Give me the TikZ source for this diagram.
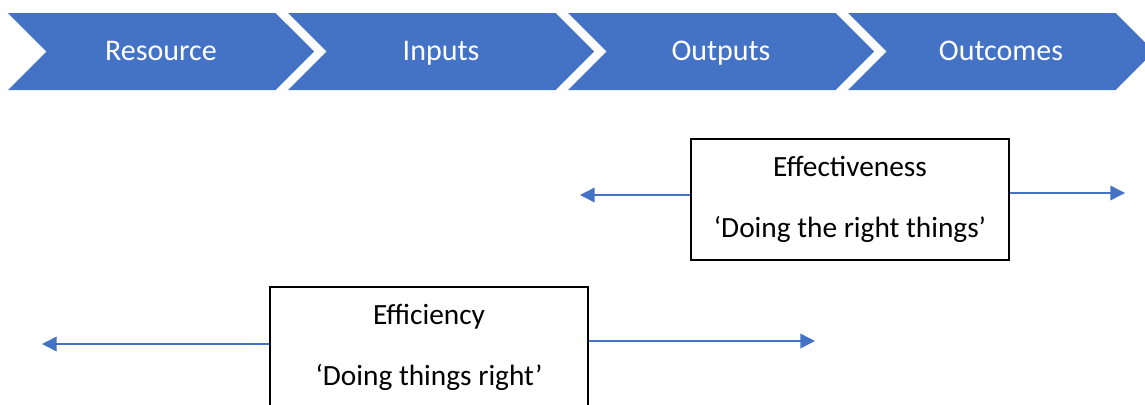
\documentclass[tikz,border=0pt]{standalone}
\usepackage{fontspec}
\setmainfont{Carlito}
\usetikzlibrary{shapes.symbols,arrows.meta}
\definecolor{chevblue}{HTML}{4472C4}

\begin{document}
\begin{tikzpicture}[x=0.75pt,y=-0.75pt,
	stage/.style={signal,signal from=west,signal to=east,fill=chevblue,text=white,inner sep=0pt,text height=16pt,text depth=1.8pt,minimum width=229.5pt,minimum height=57.75pt,font=\fontsize{22.5}{27}\selectfont},
	measure/.style={rectangle,draw=black,line width=1.1pt,minimum width=238.5pt,minimum height=90.75pt,align=center,font=\fontsize{22}{26}\selectfont},
	link/.style={draw=chevblue,line width=1.1pt,-{Triangle[length=11pt,width=11pt]}}]
\useasboundingbox (0,0) rectangle (1145,404);
% process chain
\foreach \name/\label [count=\i from 0] in {res/Resource,inp/Inputs,outp/Outputs,outc/Outcomes}
	\node[stage] (\name) at (161+280*\i,51.5) {\label};
% effectiveness
\node[measure] (eff) at (850,199.5) {Effectiveness\\[19.75pt]‘Doing the right things’};
\coordinate (effL) at (580,195);
\coordinate (effR) at (1125,193);
\path[link] (eff.west |- effL) -- (effL);
\path[link] (eff.east |- effR) -- (effR);
% efficiency
\node[measure] (effi) at (429,347.5) {Efficiency\\[19.75pt]‘Doing things right’};
\coordinate (effiL) at (42,344);
\coordinate (effiR) at (815,341);
\path[link] (effi.west |- effiL) -- (effiL);
\path[link] (effi.east |- effiR) -- (effiR);
\end{tikzpicture}
\end{document}
